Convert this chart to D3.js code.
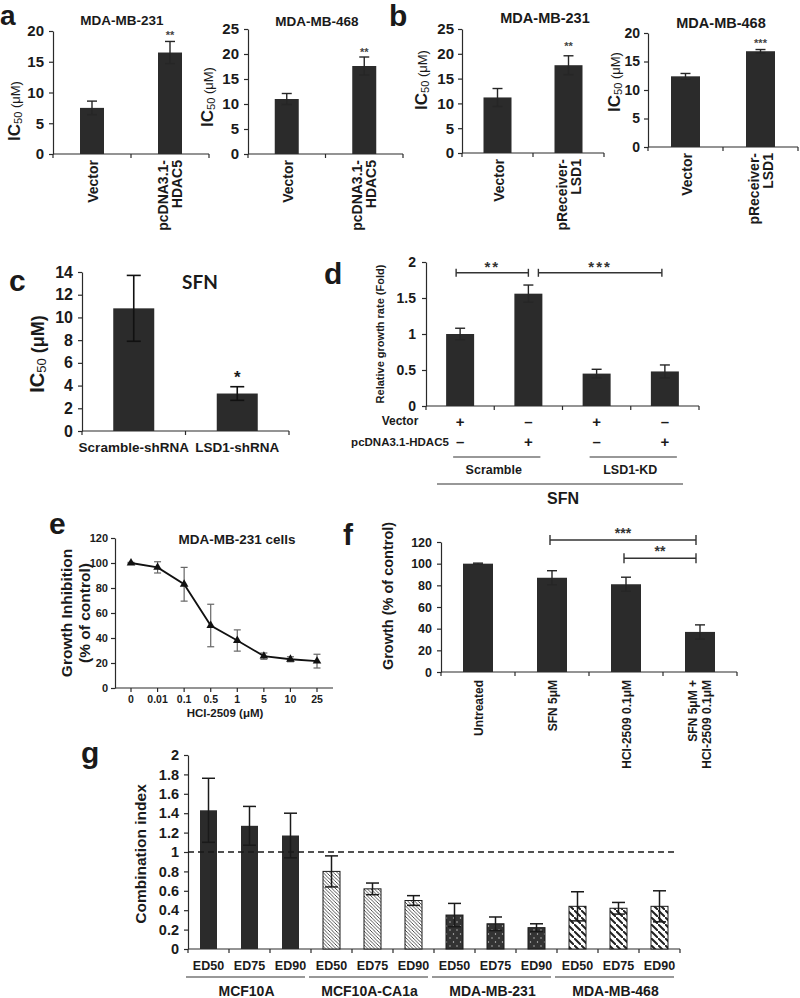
<!DOCTYPE html>
<html><head><meta charset="utf-8">
<script src="https://cdn.jsdelivr.net/npm/d3@7"></script>
<style>
body{margin:0;background:#fff}
svg{display:block}
text{font-family:"Liberation Sans",Arial,Helvetica,sans-serif;font-weight:bold;fill:#1a1a1a}
</style>
</head><body>
<svg id="fig" width="800" height="998"></svg>
<script>
// ---------------- DATA ----------------
// a: HDAC5 overexpression, IC50 (µM)
const aCats = ["Vector", "pcDNA3.1-\nHDAC5"];
const a231Vals = [7.5, 16.5];
const a231Errs = [1.1, 1.8];
const a231Sig = ["", "**"];
const a468Vals = [11.0, 17.6];
const a468Errs = [1.1, 1.8];
const a468Sig = ["", "**"];
// b: LSD1 overexpression, IC50 (µM)
const bCats = ["Vector", "pReceiver-\nLSD1"];
const b231Vals = [11.2, 17.7];
const b231Errs = [1.8, 1.9];
const b231Sig = ["", "**"];
const b468Vals = [12.4, 16.8];
const b468Errs = [0.5, 0.3];
const b468Sig = ["", "***"];
// c: SFN IC50 after knockdown
const cCats = ["Scramble-shRNA", "LSD1-shRNA"];
const cVals = [10.8, 3.3];
const cErrs = [2.9, 0.6];
const cSig = ["", "*"];
// d: relative growth rate (fold)
const dConds = ["Scramble/Vector", "Scramble/HDAC5", "LSD1-KD/Vector", "LSD1-KD/HDAC5"];
const dVals = [1.0, 1.56, 0.45, 0.48];
const dErrs = [0.08, 0.12, 0.06, 0.09];
const dRowVector = ["+", "–", "+", "–"];
const dRowHDAC5 = ["–", "+", "–", "+"];
const dGroups = ["Scramble", "LSD1-KD"];
const dBrackets = [{from: 0, to: 1, level: 1.85, label: "**"}, {from: 1, to: 3, level: 1.85, label: "***"}];
// e: HCI-2509 dose response
const eDoses = ["0", "0.01", "0.1", "0.5", "1", "5", "10", "25"];
const eVals = [100, 96.5, 83, 50, 38, 25.5, 23, 21.5];
const eErrs = [0.5, 4.5, 13.5, 17, 8.5, 2.5, 2, 5.5];
// f: combination growth
const fCats = ["Untreated", "SFN 5μM", "HCI-2509 0.1μM", "SFN 5μM +\nHCI-2509 0.1μM"];
const fVals = [100, 87, 81, 37];
const fErrs = [0.5, 6.5, 6.5, 6.5];
const fBrackets = [{from: 1, to: 3, level: 121.8, label: "***"}, {from: 2, to: 3, level: 105, label: "**"}];
// g: combination index
const gGroups = ["MCF10A", "MCF10A-CA1a", "MDA-MB-231", "MDA-MB-468"];
const gDoses = ["ED50", "ED75", "ED90"];
const gVals = [[1.43, 1.27, 1.17], [0.80, 0.62, 0.50], [0.35, 0.26, 0.22], [0.44, 0.42, 0.44]];
const gErrs = [[0.33, 0.20, 0.23], [0.16, 0.06, 0.05], [0.12, 0.07, 0.04], [0.15, 0.06, 0.16]];

// ---------------- DRAWING ----------------
const svg = d3.select("#fig");
const BAR = "#2b2b2b", AX = "#2a2a2a";

const defs = svg.append("defs");
const pf = defs.append("pattern").attr("id", "hatchFine").attr("patternUnits", "userSpaceOnUse").attr("width", 3.5).attr("height", 3.5);
pf.append("rect").attr("width", 3.5).attr("height", 3.5).attr("fill", "#fff");
pf.append("path").attr("d", "M-1,-1 l2,2 M0,0 l3.5,3.5 M2.5,2.5 l2,2").attr("stroke", "#333").attr("stroke-width", 0.8);
const pw = defs.append("pattern").attr("id", "hatchWide").attr("patternUnits", "userSpaceOnUse").attr("width", 7).attr("height", 7);
pw.append("rect").attr("width", 7).attr("height", 7).attr("fill", "#fff");
pw.append("path").attr("d", "M-1,-1 l2,2 M0,0 l7,7 M6,6 l2,2").attr("stroke", "#222").attr("stroke-width", 2);
const pd = defs.append("pattern").attr("id", "dots").attr("patternUnits", "userSpaceOnUse").attr("width", 7).attr("height", 8);
pd.append("rect").attr("width", 7).attr("height", 8).attr("fill", "#333");
pd.append("circle").attr("cx", 2).attr("cy", 2).attr("r", 0.7).attr("fill", "#ccc");
pd.append("circle").attr("cx", 5.5).attr("cy", 6).attr("r", 0.7).attr("fill", "#ccc");

function axisStyle(sel, size) {
  sel.attr("font-family", null).attr("font-size", size).attr("color", AX);
  sel.selectAll("path.domain").attr("stroke-width", 1.2);
  sel.selectAll(".tick line").attr("stroke-width", 1.2);
  sel.selectAll(".tick text").style("font-size", size + "px");
}
function txt(x, y, s, size, opt = {}) {
  const t = svg.append("text").attr("x", x).attr("y", y).attr("font-size", size)
    .attr("text-anchor", opt.anchor || "middle").text(s);
  if (opt.fill) t.style("fill", opt.fill);
  if (opt.family) t.style("font-family", opt.family);
  if (opt.weight) t.style("font-weight", opt.weight);
  return t;
}
function rtxt(x, y, s, size, anchor) {
  return svg.append("text").attr("transform", `translate(${x},${y}) rotate(-90)`)
    .attr("text-anchor", anchor || "middle").attr("dominant-baseline", "central")
    .attr("font-size", size).text(s);
}
function errBars(g, xs, tops, errs, y, cap, color, sw) {
  xs.forEach((x, i) => {
    const v = tops[i], e = errs[i];
    const y1 = y(v + e), y2 = y(Math.max(0, v - e));
    g.append("line").attr("x1", x).attr("x2", x).attr("y1", y1).attr("y2", y2).attr("stroke", color).attr("stroke-width", sw);
    g.append("line").attr("x1", x - cap / 2).attr("x2", x + cap / 2).attr("y1", y1).attr("y2", y1).attr("stroke", color).attr("stroke-width", sw);
    g.append("line").attr("x1", x - cap / 2).attr("x2", x + cap / 2).attr("y1", y2).attr("y2", y2).attr("stroke", color).attr("stroke-width", sw);
  });
}
function barPanel(o) {
  const g = svg.append("g");
  const x = d3.scaleBand().domain(o.cats).range([o.x0, o.x1]);
  const y = d3.scaleLinear().domain([0, o.max]).range([o.yb, o.yt]);
  const ya = g.append("g").attr("transform", `translate(${o.x0},0)`)
    .call(d3.axisLeft(y).tickValues(o.ticks).tickSize(4).tickSizeOuter(0).tickPadding(o.pad ?? 4)
      .tickFormat(o.fmt || (d => String(d))));
  axisStyle(ya, o.tickFont);
  g.append("line").attr("x1", o.x0).attr("x2", o.x1).attr("y1", o.yb).attr("y2", o.yb).attr("stroke", AX).attr("stroke-width", 1.2);
  const bounds = o.cats.map(c => x(c)).concat([o.x1]);
  g.selectAll("line.xt").data(bounds).join("line").attr("class", "xt")
    .attr("x1", d => d).attr("x2", d => d).attr("y1", o.yb).attr("y2", o.yb + 4).attr("stroke", AX).attr("stroke-width", 1.2);
  const cx = c => x(c) + x.bandwidth() / 2;
  g.selectAll("rect.bar").data(o.cats).join("rect").attr("class", "bar")
    .attr("x", c => cx(c) - o.bw / 2).attr("width", o.bw)
    .attr("y", (c, i) => y(o.vals[i])).attr("height", (c, i) => y(0) - y(o.vals[i]))
    .attr("fill", o.fill || BAR);
  errBars(g, o.cats.map(cx), o.vals, o.errs, y, o.cap, o.errColor || "#262626", o.errW || 1.4);
  if (o.sig) o.sig.forEach((s, i) => {
    if (!s) return;
    txt(cx(o.cats[i]), y(o.vals[i] + o.errs[i]) - o.sigGap, s, o.sigSize, {fill: o.sigFill || "#444"});
  });
  return {g, x, y, cx};
}
function rotCatLabels(p, cats, yTop, size, gap) {
  cats.forEach(c => {
    const lines = c.split("\n");
    lines.forEach((ln, i) => {
      const off = lines.length === 1 ? 1 : (i - (lines.length - 1) / 2) * gap;
      rtxt(p.cx(c) + off, yTop, ln, size, "end");
    });
  });
}
function icLabel(x, y, s1, s2, s3, w3) {
  const t = svg.append("text").attr("transform", `translate(${x},${y}) rotate(-90)`).attr("text-anchor", "middle");
  t.append("tspan").text("IC").attr("font-size", s1);
  t.append("tspan").text("50").attr("font-size", s2).attr("dy", 1.5).style("font-weight", "normal");
  t.append("tspan").text(" (μM)").attr("font-size", s3).attr("dy", -1.5).style("font-weight", w3);
}

// ---- panel letters ----
[["a", 0, 25, 28], ["b", 389, 26, 30], ["c", 9, 291, 30], ["d", 324, 284, 30], ["e", 49, 534, 30], ["f", 343, 545, 30], ["g", 81, 763, 30]]
  .forEach(([s, x, y, fs]) => txt(x, y, s, fs, {anchor: "start"}));

// ---- panel a ----
const a1 = barPanel({cats: aCats, vals: a231Vals, errs: a231Errs, x0: 53, x1: 209, yb: 154, yt: 31, max: 20,
  ticks: [0, 5, 10, 15, 20], tickFont: 15, bw: 24, cap: 10, pad: 5, sig: a231Sig, sigGap: 2, sigSize: 11});
rotCatLabels(a1, aCats, 160, 14, 14);
txt(122, 25, "MDA-MB-231", 13.5);
icLabel(20, 111, 17, 11, 13, "normal");

const a2 = barPanel({cats: aCats, vals: a468Vals, errs: a468Errs, x0: 248, x1: 403, yb: 154, yt: 29, max: 25,
  ticks: [0, 5, 10, 15, 20, 25], tickFont: 15, bw: 24, cap: 10, pad: 5, sig: a468Sig, sigGap: 1, sigSize: 11});
rotCatLabels(a2, aCats, 160, 14, 14);
txt(317, 26, "MDA-MB-468", 13.5);
icLabel(213, 97, 17, 11, 13, "normal");

// ---- panel b ----
const b1 = barPanel({cats: bCats, vals: b231Vals, errs: b231Errs, x0: 462, x1: 604, yb: 153, yt: 29, max: 25,
  ticks: [0, 5, 10, 15, 20, 25], tickFont: 15, bw: 28, cap: 10, pad: 4, sig: b231Sig, sigGap: 6, sigSize: 11});
rotCatLabels(b1, bCats, 159, 14, 14);
txt(545, 23, "MDA-MB-231", 14.5);
icLabel(427, 80, 17, 11, 13, "normal");

const b2 = barPanel({cats: bCats, vals: b468Vals, errs: b468Errs, x0: 648, x1: 798, yb: 147, yt: 33, max: 20,
  ticks: [0, 5, 10, 15, 20], tickFont: 14, bw: 29, cap: 10, pad: 4, sig: b468Sig, sigGap: 3, sigSize: 11});
rotCatLabels(b2, bCats, 153, 14, 14);
txt(721, 28, "MDA-MB-468", 14.5);
icLabel(620, 82, 17, 11, 13, "normal");

// ---- panel c ----
const c = barPanel({cats: cCats, vals: cVals, errs: cErrs, x0: 82, x1: 289, yb: 431, yt: 272, max: 14,
  ticks: [0, 2, 4, 6, 8, 10, 12, 14], tickFont: 16, bw: 41, cap: 14, pad: 5, errColor: "#111", errW: 1.6,
  sig: cSig, sigGap: 4, sigSize: 17, sigFill: "#1a1a1a"});
cCats.forEach(cc => txt(c.cx(cc), 452, cc, 13.5));
txt(200, 289, "SFN", 19, {family: "Lato, 'Open Sans', sans-serif"});
icLabel(44, 354, 20, 13, 18, "bold");

// ---- panel d ----
const dd = barPanel({cats: dConds, vals: dVals, errs: dErrs, x0: 426, x1: 699, yb: 406, yt: 262, max: 2,
  ticks: [0, 0.5, 1, 1.5, 2], tickFont: 14, bw: 28, cap: 10, pad: 6});
rtxt(380, 334, "Relative growth rate (Fold)", 11);
dBrackets.forEach((b, i) => {
  const x1 = dd.cx(dConds[b.from]) + (i === 0 ? -4 : 10), x2 = dd.cx(dConds[b.to]) + (i === 0 ? 0 : -3);
  const yy = dd.y(b.level);
  dd.g.append("line").attr("x1", x1).attr("x2", x2).attr("y1", yy).attr("y2", yy).attr("stroke", "#333").attr("stroke-width", 1.4);
  [x1, x2].forEach(xx => dd.g.append("line").attr("x1", xx).attr("x2", xx).attr("y1", yy - 4).attr("y2", yy + 4).attr("stroke", "#333").attr("stroke-width", 1.4));
  txt((x1 + x2) / 2, yy - 1, b.label, 15, {fill: "#333"}).attr("letter-spacing", 2);
});
txt(400, 425, "Vector", 12);
txt(400, 446, "pcDNA3.1-HDAC5", 11.5);
dConds.forEach((k, i) => {
  txt(dd.cx(k), 427, dRowVector[i], 15);
  txt(dd.cx(k), 447, dRowHDAC5[i], 15);
});
dGroups.forEach((gname, gi) => {
  const k1 = dConds[gi * 2], k2 = dConds[gi * 2 + 1];
  const xa = dd.cx(k1) - 7, xb = dd.cx(k2) + 12;
  svg.append("line").attr("x1", xa).attr("x2", xb).attr("y1", 457).attr("y2", 457).attr("stroke", "#333").attr("stroke-width", 1.2);
  txt((xa + xb) / 2 - 3, 474, gname, 12.5);
});
svg.append("line").attr("x1", 437).attr("x2", 683).attr("y1", 484).attr("y2", 484).attr("stroke", "#333").attr("stroke-width", 1.2);
txt(563, 504, "SFN", 16);

// ---- panel e ----
{
  const g = svg.append("g");
  const ex = d3.scalePoint().domain(eDoses).range([131, 317]);
  const ey = d3.scaleLinear().domain([0, 120]).range([688, 538]);
  const ya = g.append("g").attr("transform", "translate(115,0)")
    .call(d3.axisLeft(ey).tickValues(d3.range(0, 121, 20)).tickSize(4).tickSizeOuter(0).tickPadding(3));
  axisStyle(ya, 11);
  g.append("line").attr("x1", 115).attr("x2", 333).attr("y1", 688).attr("y2", 688).attr("stroke", AX).attr("stroke-width", 1.2);
  eDoses.forEach(d => {
    g.append("line").attr("x1", ex(d)).attr("x2", ex(d)).attr("y1", 688).attr("y2", 692).attr("stroke", AX).attr("stroke-width", 1.2);
    txt(ex(d), 703, d, 10.5);
  });
  errBars(g, eDoses.map(ex), eVals, eErrs, ey, 7, "#666", 1.2);
  g.append("path").datum(eVals).attr("fill", "none").attr("stroke", "#111").attr("stroke-width", 1.8)
    .attr("d", d3.line().x((v, i) => ex(eDoses[i])).y(v => ey(v)));
  g.selectAll("path.m").data(eVals).join("path").attr("class", "m")
    .attr("transform", (v, i) => `translate(${ex(eDoses[i])},${ey(v)})`)
    .attr("d", d3.symbol(d3.symbolTriangle, 32)).attr("fill", "#111");
  txt(237, 544, "MDA-MB-231 cells", 13.5);
  rtxt(66, 613, "Growth Inhibition", 15.5);
  rtxt(84, 613, "(% of control)", 15.5);
  txt(225, 717, "HCI-2509 (μM)", 11.5);
}

// ---- panel f ----
const ff = barPanel({cats: fCats, vals: fVals, errs: fErrs, x0: 441, x1: 737, yb: 672, yt: 542, max: 120,
  ticks: d3.range(0, 121, 20), tickFont: 12.5, bw: 30, cap: 10, pad: 5});
rotCatLabels(ff, fCats, 680, 12, 14);
rtxt(388, 596, "Growth (% of control)", 14.5);
fBrackets.forEach(b => {
  const x1 = ff.cx(fCats[b.from]) - 2, x2 = ff.cx(fCats[b.to]) - 4;
  const yy = ff.y(b.level);
  ff.g.append("line").attr("x1", x1).attr("x2", x2).attr("y1", yy).attr("y2", yy).attr("stroke", "#333").attr("stroke-width", 1.4);
  [x1, x2].forEach(xx => ff.g.append("line").attr("x1", xx).attr("x2", xx).attr("y1", yy - 5).attr("y2", yy + 5).attr("stroke", "#333").attr("stroke-width", 1.4));
  txt((x1 + x2) / 2, yy - 2, b.label, 14, {fill: "#333"});
});

// ---- panel g ----
{
  const g = svg.append("g");
  const keys = gGroups.flatMap(gr => gDoses.map(ds => gr + "|" + ds));
  const gx = d3.scaleBand().domain(keys).range([188, 680]);
  const gy = d3.scaleLinear().domain([0, 2]).range([949, 755]);
  const ya = g.append("g").attr("transform", "translate(188,0)")
    .call(d3.axisLeft(gy).tickValues(d3.range(0, 11).map(i => i * 0.2)).tickSize(4).tickSizeOuter(0).tickPadding(5)
      .tickFormat(d => String(+d.toFixed(1))));
  axisStyle(ya, 14.5);
  g.append("line").attr("x1", 188).attr("x2", 680).attr("y1", 949).attr("y2", 949).attr("stroke", AX).attr("stroke-width", 1.2);
  keys.concat(["end"]).forEach((k, i) => {
    const xx = k === "end" ? 680 : gx(k);
    g.append("line").attr("x1", xx).attr("x2", xx).attr("y1", 949).attr("y2", 953).attr("stroke", AX).attr("stroke-width", 1.2);
  });
  const fills = [BAR, "url(#hatchFine)", "url(#dots)", "url(#hatchWide)"];
  const bw = 17;
  gGroups.forEach((gr, gi) => {
    const xs = gDoses.map(ds => gx(gr + "|" + ds) + gx.bandwidth() / 2);
    gDoses.forEach((ds, di) => {
      const v = gVals[gi][di];
      g.append("rect").attr("x", xs[di] - bw / 2).attr("width", bw).attr("y", gy(v)).attr("height", gy(0) - gy(v))
        .attr("fill", fills[gi]).attr("stroke", gi === 0 ? "none" : "#1a1a1a").attr("stroke-width", gi === 0 ? 0 : 1);
      txt(xs[di], 970, ds, 12.5);
    });
    errBars(g, xs, gVals[gi], gErrs[gi], gy, 13, "#1a1a1a", 1.5);
    const s = gx(gr + "|" + gDoses[0]), e = gx(gr + "|" + gDoses[2]) + gx.bandwidth();
    g.append("line").attr("x1", s - 2).attr("x2", e - 6).attr("y1", 977).attr("y2", 977).attr("stroke", "#333").attr("stroke-width", 1.2);
    txt((s + e) / 2 - 3, 996, gr, 14);
  });
  g.append("line").attr("x1", 188).attr("x2", 675).attr("y1", gy(1)).attr("y2", gy(1))
    .attr("stroke", "#1a1a1a").attr("stroke-width", 1.5).attr("stroke-dasharray", "6,4");
  rtxt(140, 854, "Combination index", 15.5);
}
</script>
</body></html>
